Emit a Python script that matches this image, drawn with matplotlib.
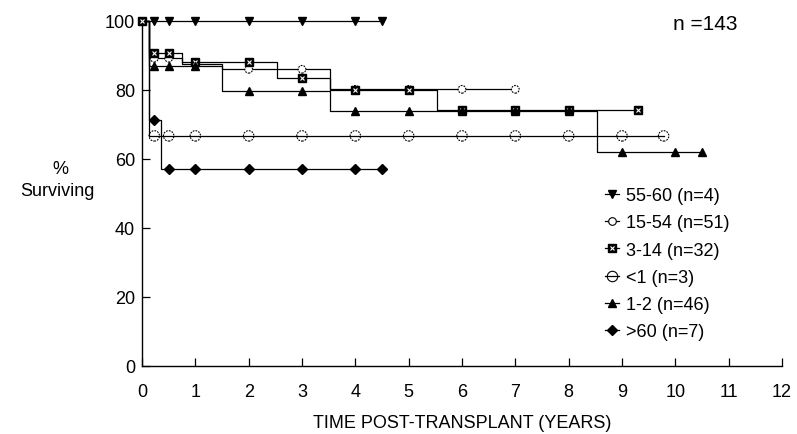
import numpy as np
import matplotlib
matplotlib.use("Agg")
import matplotlib.pyplot as plt
from matplotlib.lines import Line2D
from matplotlib.legend_handler import HandlerTuple

plt.rcParams['font.family'] = ['Liberation Sans', 'DejaVu Sans']

# Kaplan-Meier style survival by age group (years post-transplant, % surviving)
# each group: times where the level changes, the level from then on,
# the end of follow-up, and the times of the plotted symbols
labels = ["55-60 (n=4)", "15-54 (n=51)", "3-14 (n=32)", "<1 (n=3)", "1-2 (n=46)", ">60 (n=7)"]

t_55_60 = [0.0]
s_55_60 = [100.0]
end_55_60 = 4.5
m_55_60 = [0.23, 0.5, 1, 2, 3, 4, 4.5]

t_15_54 = [0.0, 0.13, 0.75, 1.5, 3.53]
s_15_54 = [100.0, 89.2, 87.4, 86.0, 80.2]
end_15_54 = 7.0
m_15_54 = [0.23, 0.5, 1, 2, 3, 4, 5, 6, 7]

t_3_14 = [0.0, 0.13, 0.75, 2.53, 3.53, 5.53]
s_3_14 = [100.0, 90.8, 88.0, 83.5, 80.0, 74.2]
end_3_14 = 9.3
m_3_14 = [0, 0.23, 0.5, 1, 2, 3, 4, 5, 6, 7, 8, 9.3]

t_lt1 = [0.0, 0.13]
s_lt1 = [100.0, 66.7]
end_lt1 = 9.78
m_lt1 = [0.23, 0.5, 1, 2, 3, 4, 5, 6, 7, 8, 9, 9.78]

t_1_2 = [0.0, 0.13, 1.5, 3.53, 8.53]
s_1_2 = [100.0, 86.9, 79.6, 73.9, 62.0]
end_1_2 = 10.5
m_1_2 = [0.23, 0.5, 1, 2, 3, 4, 5, 6, 7, 8, 9, 10, 10.5]

t_gt60 = [0.0, 0.13, 0.36]
s_gt60 = [100.0, 71.4, 57.1]
end_gt60 = 4.5
m_gt60 = [0.23, 0.5, 1, 2, 3, 4, 4.5]

x_ticks = list(range(0, 13))
y_ticks = [0, 20, 40, 60, 80, 100]


def level_at(times, levels, t):
    idx = np.searchsorted(np.asarray(times), np.asarray(t, dtype=float), side="right") - 1
    return np.asarray(levels)[idx]


fig = plt.figure(figsize=(7.97, 4.35), dpi=100)
ax = fig.add_axes([142 / 797, 1 - 367 / 435, 640 / 797, 345 / 435])

LW = 0.9
DASH = (0, (1.6, 1.0))
groups = [
    (t_55_60, s_55_60, end_55_60, m_55_60, dict(marker="v", ms=6, mfc="black", mec="black"), False),
    (t_15_54, s_15_54, end_15_54, m_15_54, dict(marker="o", ms=5.5, mfc="white", mec="black", mew=0.8), True),
    (t_3_14, s_3_14, end_3_14, m_3_14, dict(marker="s", ms=6, mfc="black", mec="black"), False),
    (t_lt1, s_lt1, end_lt1, m_lt1, dict(marker="o", ms=7.5, mfc="none", mec="black", mew=0.8), True),
    (t_1_2, s_1_2, end_1_2, m_1_2, dict(marker="^", ms=6, mfc="black", mec="black"), False),
    (t_gt60, s_gt60, end_gt60, m_gt60, dict(marker="D", ms=4.8, mfc="black", mec="black"), False),
]

handles = []
for i, (ts, ss, end, marks, mstyle, dashed_edge) in enumerate(groups):
    xs = list(ts) + [end]
    ys = list(ss) + [ss[-1]]
    ax.step(xs, ys, where="post", color="black", lw=LW, zorder=2, clip_on=False)
    my = level_at(ts, ss, marks)
    if dashed_edge:
        fc = "white" if mstyle["mfc"] == "white" else "none"
        ax.scatter(marks, my, s=mstyle["ms"] ** 2, marker="o", facecolors=fc,
                   edgecolors="black", linewidths=mstyle["mew"], linestyles=DASH,
                   zorder=3 + i, clip_on=False)
    else:
        ax.plot(marks, my, ls="none", zorder=3 + i, clip_on=False, **mstyle)
    if mstyle["marker"] == "s":
        ax.plot(marks, my, ls="none", marker="x", ms=3.3, mec="white", mew=0.8,
                zorder=3 + i, clip_on=False)
        h = (Line2D([], [], color="black", lw=LW, **mstyle),
             Line2D([], [], ls="none", marker="x", ms=3.3, mec="white", mew=0.8))
    else:
        h = Line2D([], [], color="black", lw=LW, **mstyle)
    handles.append(h)

ax.set_xlim(0, 12)
ax.set_ylim(0, 100)
ax.set_xticks(x_ticks)
ax.set_yticks(y_ticks)
ax.tick_params(direction="in", length=6, width=0.9, labelsize=13)
ax.tick_params(axis="x", pad=12)
ax.tick_params(axis="y", pad=5)
for side in ("top", "right"):
    ax.spines[side].set_visible(False)
for side in ("left", "bottom"):
    ax.spines[side].set_linewidth(1.0)

ax.set_xlabel("TIME POST-TRANSPLANT (YEARS)", fontsize=13, labelpad=10)
fig.text(60 / 797, 1 - 170 / 435, "%", ha="center", va="center", fontsize=13)
fig.text(57 / 797, 1 - 191 / 435, "Surviving", ha="center", va="center", fontsize=13)
fig.text(705 / 797, 1 - 24 / 435, "n =143", ha="center", va="center", fontsize=15)

leg = fig.legend(handles, labels, loc="upper left",
                 bbox_to_anchor=(605 / 797, 1 - 188 / 435),
                 frameon=False, fontsize=13, handlelength=0.75,
                 handletextpad=0.4, labelspacing=0.57, borderpad=0,
                 borderaxespad=0,
                 handler_map={tuple: HandlerTuple(ndivide=1)})

fig.savefig("out.png", dpi=100)
